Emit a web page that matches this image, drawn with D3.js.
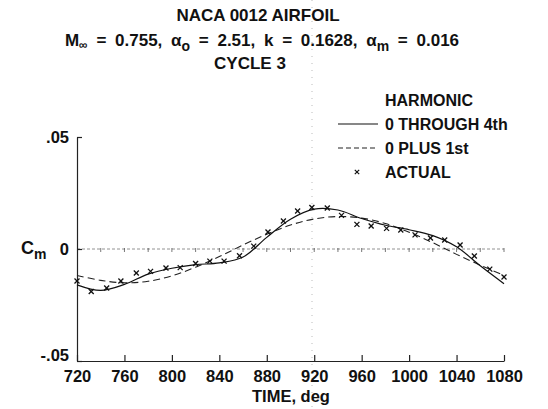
<!DOCTYPE html>
<html><head><meta charset="utf-8">
<script src="https://cdn.jsdelivr.net/npm/d3@7"></script>
<style>
body{margin:0;background:#fff;}
text{font-family:"Liberation Sans",Arial,sans-serif;font-weight:bold;fill:#111;}
</style></head>
<body><svg id="c" width="548" height="409"></svg>
<script>
// ---- data ----
const xTicks = [720,760,800,840,880,920,960,1000,1040,1080];
const yTicks = [-0.05,0,0.05];
const yTickLabels = ["-.05","0",".05"];
const curveTimes = [720,740,760,780,800,820,840,860,880,900,920,940,960,980,1000,1020,1040,1060,1080];
const harm0to4 = [-0.0160,-0.0185,-0.0158,-0.0112,-0.0086,-0.0070,-0.0062,-0.0036,0.0052,0.0133,0.0178,0.0174,0.0136,0.0106,0.0086,0.0060,0.0010,-0.0075,-0.0155];
const harm0plus1 = [-0.0118,-0.0140,-0.0151,-0.0144,-0.0120,-0.0081,-0.0034,0.0018,0.0066,0.0107,0.0134,0.0145,0.0138,0.0114,0.0075,0.0028,-0.0024,-0.0072,-0.0118];
const actualTimes = [720,732,745,757,770,782,795,807,820,832,844,857,869,881,894,906,918,931,943,956,968,981,993,1005,1018,1030,1043,1055,1068,1080];
const actualCm = [-0.0143,-0.0190,-0.0174,-0.0143,-0.0107,-0.0100,-0.0085,-0.0083,-0.0065,-0.0054,-0.0054,-0.0030,0.0013,0.0076,0.0125,0.0170,0.0185,0.0183,0.0150,0.0110,0.0103,0.0092,0.0085,0.0063,0.0049,0.0040,0.0018,-0.0031,-0.0090,-0.0125];
const legendLabels = ["0 THROUGH 4th","0 PLUS 1st","ACTUAL"];

const svg = d3.select("#c");
const x = d3.scaleLinear().domain([720,1080]).range([77,504]);
const y = d3.scaleLinear().domain([-0.05,0.05]).range([361,137]);

// scan artifact: faint dotted vertical line
svg.append("line").attr("x1",312).attr("x2",312).attr("y1",0).attr("y2",409)
  .attr("stroke","#aaa").attr("stroke-width",0.8).attr("stroke-dasharray","1,6");

// title
const t = svg.append("g").attr("text-anchor","middle");
t.append("text").attr("x",258).attr("y",21).attr("font-size",17).text("NACA 0012 AIRFOIL");
const l2 = t.append("text").attr("x",262).attr("y",46).attr("font-size",17).attr("word-spacing",4);
l2.append("tspan").text("M");
l2.append("tspan").attr("font-size",12).attr("dy",3).text("\u221E");
l2.append("tspan").attr("dy",-3).text(" = 0.755, \u03B1");
l2.append("tspan").attr("font-size",14).attr("dy",5).text("o");
l2.append("tspan").attr("dy",-5).text(" = 2.51, k = 0.1628, \u03B1");
l2.append("tspan").attr("font-size",14).attr("dy",5).text("m");
l2.append("tspan").attr("dy",-5).text(" = 0.016");
t.append("text").attr("x",250).attr("y",69).attr("font-size",17).text("CYCLE 3");

// zero line (dotted) with small ticks
svg.append("line").attr("x1",x(720)).attr("x2",x(1080)).attr("y1",y(0)).attr("y2",y(0))
  .attr("stroke","#777").attr("stroke-width",0.8).attr("stroke-dasharray","3,2");
svg.append("g").selectAll("line").data(d3.range(740,1081,20)).join("line")
  .attr("x1",d=>x(d)).attr("x2",d=>x(d)).attr("y1",y(0)-1).attr("y2",y(0)+3)
  .attr("stroke","#555").attr("stroke-width",0.8);

// axes
const xa = svg.append("g").attr("transform",`translate(0,${y(-0.05)})`)
  .call(d3.axisBottom(x).tickValues(xTicks).tickSizeInner(-6).tickSizeOuter(0).tickPadding(9).tickFormat(d3.format("d")));
xa.selectAll("text").attr("font-size",16.5).attr("dy","0.7em");
const ya = svg.append("g").attr("transform",`translate(${x(720)},0)`)
  .call(d3.axisLeft(y).tickValues(yTicks).tickSizeInner(-5).tickSizeOuter(0).tickPadding(8).tickFormat((d,i)=>yTickLabels[i]));
ya.selectAll("text").attr("font-size",16.5).attr("transform",(d)=> d===-0.05 ? "translate(0,-6)" : null);
svg.selectAll(".domain").attr("stroke","#222").attr("stroke-width",1.2);
svg.selectAll(".tick line").attr("stroke","#222").attr("stroke-width",1.2);
svg.selectAll(".tick text").attr("font-family","Liberation Sans, Arial, sans-serif").attr("font-weight","bold").attr("fill","#111");

// axis titles
const cm = svg.append("text").attr("x",21).attr("y",254).attr("font-size",18);
cm.append("tspan").text("C");
cm.append("tspan").attr("font-size",14).attr("dy",5).text("m");
svg.append("text").attr("x",291).attr("y",402).attr("text-anchor","middle").attr("font-size",16.5).text("TIME, deg");

// curves
const line = d3.line().x(d=>x(d[0])).y(d=>y(d[1])).curve(d3.curveCatmullRom);
svg.append("path").datum(curveTimes.map((tt,i)=>[tt,harm0plus1[i]])).attr("d",line)
  .attr("fill","none").attr("stroke","#222").attr("stroke-width",1.1).attr("stroke-dasharray","7,4");
svg.append("path").datum(curveTimes.map((tt,i)=>[tt,harm0to4[i]])).attr("d",line)
  .attr("fill","none").attr("stroke","#111").attr("stroke-width",1.2);

// markers
function cross(g,cx,cy,s){
  g.append("line").attr("x1",cx-s).attr("y1",cy-s).attr("x2",cx+s).attr("y2",cy+s);
  g.append("line").attr("x1",cx-s).attr("y1",cy+s).attr("x2",cx+s).attr("y2",cy-s);
}
const mg = svg.append("g").attr("stroke","#111").attr("stroke-width",1.3);
actualTimes.forEach((tt,i)=>cross(mg,x(tt),y(actualCm[i]),2.5));

// legend
const lg = svg.append("g");
lg.append("text").attr("x",385).attr("y",106).attr("font-size",16).text("HARMONIC");
lg.append("line").attr("x1",338).attr("x2",378).attr("y1",124).attr("y2",124).attr("stroke","#111").attr("stroke-width",1.2);
lg.append("text").attr("x",385).attr("y",130).attr("font-size",16).text(legendLabels[0]);
lg.append("line").attr("x1",338).attr("x2",378).attr("y1",148).attr("y2",148).attr("stroke","#222").attr("stroke-width",1.1).attr("stroke-dasharray","5,3");
lg.append("text").attr("x",385).attr("y",154).attr("font-size",16).text(legendLabels[1]);
const lm = lg.append("g").attr("stroke","#111").attr("stroke-width",1.2);
cross(lm,357,172,2.2);
lg.append("text").attr("x",385).attr("y",178).attr("font-size",16).text(legendLabels[2]);
</script></body></html>
